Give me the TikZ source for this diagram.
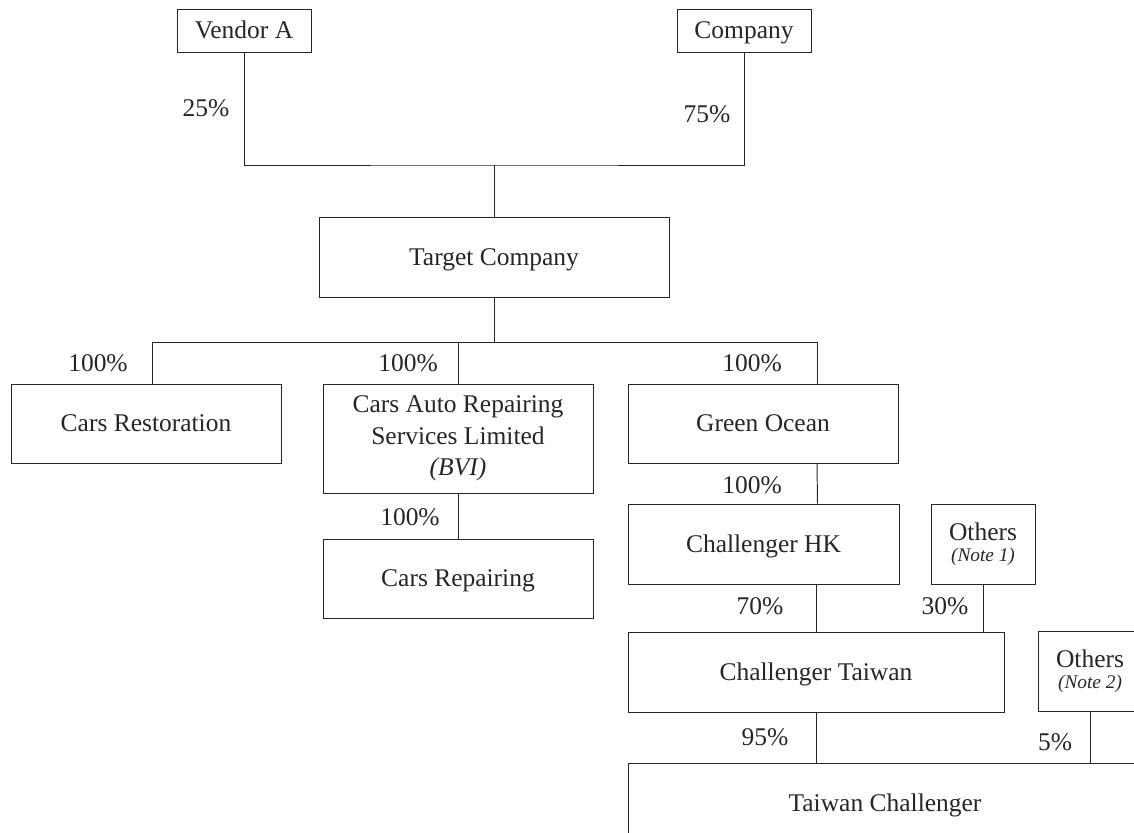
\documentclass[tikz,border=0pt]{standalone}
\usepackage{fontspec}
\setmainfont{Liberation Serif}
\usetikzlibrary{positioning, calc}
\tikzset{entityNode/.style={shape=rectangle, draw=black!85, line width=0.55pt, align=center, inner sep=0pt, text=black!85, font=\fontsize{14.5}{18}\selectfont}}
\tikzset{oneLine/.style={entityNode, text height=2.5ex, text depth=0.5ex}}
\tikzset{noteNode/.style={entityNode, minimum width=2.08cm, minimum height=1.6cm}}
\tikzset{pctNode/.style={shape=rectangle, draw=none, inner sep=0pt, text=black!85, font=\fontsize{14.5}{18}\selectfont}}
\tikzset{link/.style={draw=black!85, line width=0.55pt}}

\begin{document}
\begin{tikzpicture}
\useasboundingbox (0,0) rectangle (22.68,-16.66);

% Shareholders
\node[oneLine, minimum width=2.68cm, minimum height=0.86cm] (vendor) at (4.88,-0.61) {Vendor A};
\node[oneLine, minimum width=2.68cm, minimum height=0.86cm] (company) at (14.88,-0.61) {Company};
\node[oneLine, minimum width=7cm, minimum height=1.6cm] (target) at (9.88,-5.14) {Target Company};

\coordinate (topbus) at (9.88,-3.3);
\draw[link] (vendor.south) |- (topbus) -| (company.south);
\draw[link] (topbus) -- (target.north);
\node[pctNode] (p25) at (4.12,-2.16) {25\%};
\node[pctNode] (p75) at (14.14,-2.28) {75\%};

% Subsidiaries of the target
\node[oneLine, minimum width=5.4cm, minimum height=1.58cm] (restoration) at (2.92,-8.47) {Cars Restoration};
\node[entityNode, minimum width=5.4cm, minimum height=2.18cm] (carsauto) at (9.16,-8.77)
  {Cars Auto Repairing\\Services Limited\\\textit{(BVI)}};
\node[oneLine, minimum width=5.4cm, minimum height=1.58cm] (greenocean) at (15.26,-8.47) {Green Ocean};

\coordinate (midbus) at (9.88,-6.84);
\draw[link] (target.south) -- (midbus);
\draw[link] (midbus) -| ([xshift=0.12cm]restoration.north);
\draw[link] (midbus) -| (carsauto.north);
\draw[link] (midbus) -| ([xshift=1.08cm]greenocean.north);
\node[pctNode] (p100a) at (1.96,-7.26) {100\%};
\node[pctNode] (p100b) at (8.16,-7.26) {100\%};
\node[pctNode] (p100c) at (15.04,-7.26) {100\%};

% Cars branch
\node[oneLine, minimum width=5.4cm, minimum height=1.58cm] (repairing) at (9.16,-11.57) {Cars Repairing};
\draw[link] (carsauto) -- (repairing);
\node[pctNode] (p100d) at (8.2,-10.34) {100\%};

% Challenger branch
\node[oneLine, minimum width=5.42cm, minimum height=1.6cm] (challhk) at (15.27,-10.88) {Challenger HK};
\node[noteNode] (others1) at (19.66,-10.88) {Others\\[-6pt]{\fontsize{11}{12}\selectfont\itshape (Note 1)}};
\node[oneLine, minimum width=7.52cm, minimum height=1.6cm] (challtw) at (16.32,-13.44) {Challenger Taiwan};
\node[noteNode] (others2) at (21.8,-13.42) {Others\\[-6pt]{\fontsize{11}{12}\selectfont\itshape (Note 2)}};
\node[oneLine, minimum width=10.28cm, minimum height=1.6cm] (taiwanchall) at (17.7,-16.06) {Taiwan Challenger};

\draw[link] ([xshift=1.08cm]greenocean.south) -- ([xshift=1.08cm]challhk.north);
\draw[link] (challtw.north) -- (challtw.north |- challhk.south);
\draw[link] (others1.south) -- (others1.south |- challtw.north);
\draw[link] (challtw.south) -- (challtw.south |- taiwanchall.north);
\draw[link] (others2.south) -- (others2.south |- taiwanchall.north);
\node[pctNode] (p100e) at (15.04,-9.7) {100\%};
\node[pctNode] (p70) at (15.2,-12.12) {70\%};
\node[pctNode] (p30) at (18.9,-12.12) {30\%};
\node[pctNode] (p95) at (15.3,-14.74) {95\%};
\node[pctNode] (p5) at (21.1,-14.84) {5\%};

\end{tikzpicture}
\end{document}
